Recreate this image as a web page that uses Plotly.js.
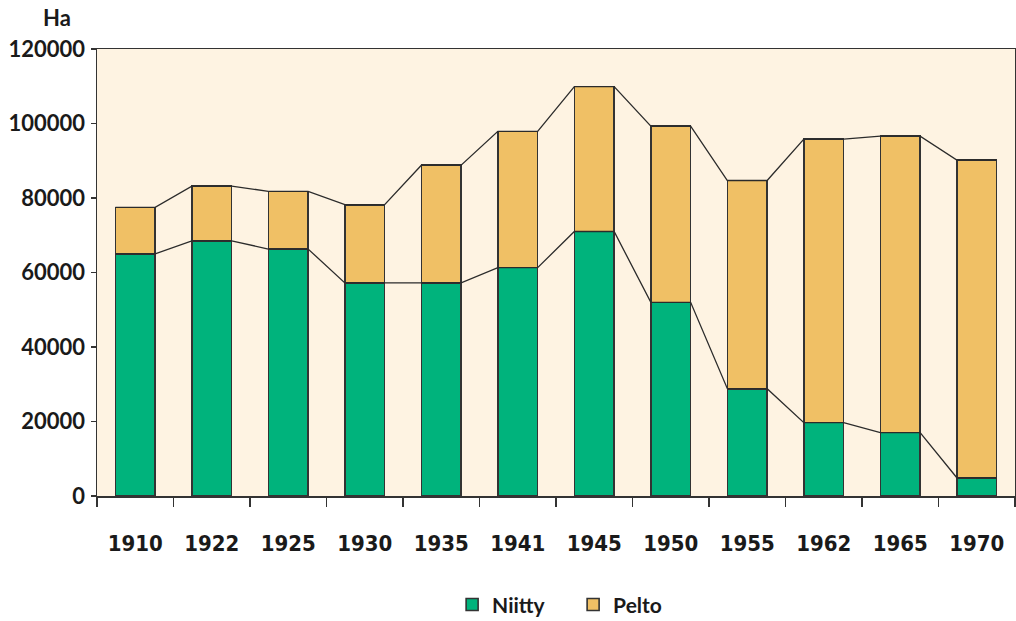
<!DOCTYPE html>
<html>
<head>
<meta charset="utf-8">
<script src="https://cdn.plot.ly/plotly-3.0.1.min.js"></script>
<style>html,body{margin:0;padding:0;background:#fff;}#chart{width:1016px;height:621px;}</style>
</head>
<body>
<div id="chart"></div>
<script>
var years = ['1910','1922','1925','1930','1935','1941','1945','1950','1955','1962','1965','1970'];
var niitty = [65000, 68500, 66300, 57200, 57200, 61300, 71000, 52000, 28800, 19700, 17000, 4900];
var pelto = [12500, 14700, 15500, 21000, 31600, 36600, 38900, 47300, 55900, 76100, 79600, 85300];
var yTicks = [0, 20000, 40000, 60000, 80000, 100000, 120000];

var BW = 0.52;
var idx = years.map(function(_, i){ return i; });
var totals = niitty.map(function(v, i){ return v + pelto[i]; });

function connector(vals){
  var xs = [], ys = [];
  vals.forEach(function(v, i){
    xs.push(i - BW/2, i + BW/2);
    ys.push(v, v);
  });
  return {type:'scatter', mode:'lines', x:xs, y:ys, showlegend:false, hoverinfo:'skip',
          line:{color:'#2b2b2b', width:1.3}};
}

var outline = {color:'#333333', width:1.6};
var data = [
  {type:'bar', name:'Niitty', x:idx, y:niitty, width:BW, marker:{color:'#00b37c', line:outline}},
  {type:'bar', name:'Pelto', x:idx, y:pelto, width:BW, marker:{color:'#f0c065', line:outline}},
  connector(niitty),
  connector(totals)
];

var font = 'Lato, "DejaVu Sans", sans-serif';
var layout = {
  width:1016, height:621,
  margin:{l:97, r:1, t:49, b:125, autoexpand:false},
  paper_bgcolor:'#ffffff',
  plot_bgcolor:'#fef3e2',
  barmode:'stack',
  font:{family:font, color:'#1a1a1a'},
  xaxis:{
    range:[-0.5, years.length - 0.5],
    tickmode:'array', tickvals:idx, ticktext:years,
    ticks:'', showgrid:false, zeroline:false,
    showline:true, linecolor:'#333333', linewidth:1.5, mirror:true,
    tickfont:{family:'"DejaVu Sans Condensed", sans-serif', size:22, color:'#1a1a1a', weight:'bold'},
    ticklabelstandoff:27,
    minor:{tickmode:'array', tickvals:idx.map(function(i){return i - 0.5;}).concat([years.length - 0.5]),
           ticks:'outside', ticklen:9, tickcolor:'#333333', tickwidth:1.3, showgrid:false}
  },
  yaxis:{
    range:[0, 120000],
    tickmode:'array', tickvals:yTicks, ticktext:yTicks.map(String),
    ticks:'outside', ticklen:5, tickcolor:'#333333', tickwidth:1.3,
    showgrid:false, zeroline:false,
    showline:true, linecolor:'#333333', linewidth:1.5, mirror:true,
    tickfont:{family:font, size:22, color:'#1a1a1a', weight:'bold'},
    ticklabelstandoff:1
  },
  legend:{orientation:'h', x:0.445, xanchor:'left', xref:'container',
          y:0.026, yanchor:'middle', yref:'container',
          font:{family:font, size:21, color:'#1a1a1a', weight:'bold'},
          itemwidth:30, entrywidth:76, traceorder:'normal'},
  annotations:[{text:'<b>Ha</b>', xref:'paper', yref:'paper', x:-0.026, y:1.0, yshift:16,
                xanchor:'right', yanchor:'bottom', showarrow:false,
                font:{family:font, size:22, color:'#1a1a1a'}}],
  showlegend:true
};

Plotly.newPlot('chart', data, layout, {displayModeBar:false, staticPlot:true});
</script>
</body>
</html>
